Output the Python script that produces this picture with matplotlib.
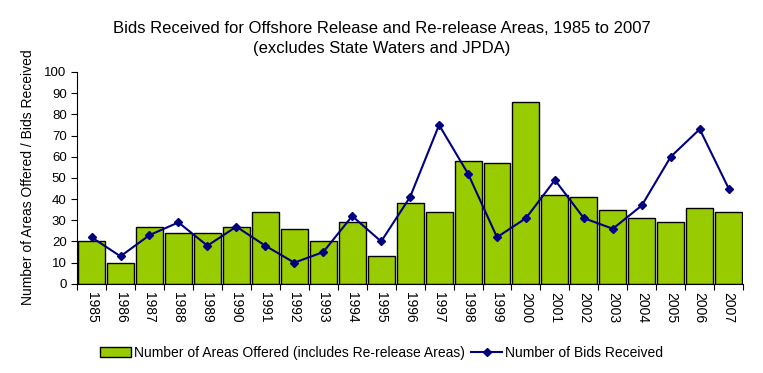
import numpy as np
import matplotlib.pyplot as plt

plt.rcParams['font.family'] = ['Liberation Sans', 'DejaVu Sans']

years = [str(y) for y in range(1985, 2008)]
areas_offered = [20, 10, 27, 24, 24, 27, 34, 26, 20, 29, 13, 38,
                 34, 58, 57, 86, 42, 41, 35, 31, 29, 36, 34]
bids_received = [22, 13, 23, 29, 18, 27, 18, 10, 15, 32, 20, 41,
                 75, 52, 22, 31, 49, 31, 26, 37, 60, 73, 45]

fig = plt.figure(figsize=(7.63, 3.73), dpi=100)
ax = fig.add_axes([0.101, 0.239, 0.873, 0.568])

x = np.arange(len(years))
bars = ax.bar(x, areas_offered, width=0.93, color='#99CC00', edgecolor='black',
              linewidth=1, label='Number of Areas Offered (includes Re-release Areas)')
line, = ax.plot(x, bids_received, color='#000080', marker='D', markersize=4,
                linewidth=1.5, label='Number of Bids Received')

ax.set_xlim(-0.5, len(years) - 0.5)
ax.set_ylim(0, 100)
ax.set_yticks(range(0, 101, 10))
ax.tick_params(axis='y', labelsize=9.5, length=4, direction='out')

# ticks between categories, labels centred under bars
ax.set_xticks(np.arange(-0.5, len(years), 1))
ax.set_xticklabels([])
ax.set_xticks(x, minor=True)
ax.set_xticklabels(years, minor=True, rotation=-90, fontsize=10)
ax.tick_params(axis='x', which='minor', length=0, pad=6)
ax.tick_params(axis='x', which='major', length=4)

for s in ['top', 'right']:
    ax.spines[s].set_visible(False)

fig.text(0.5, 0.897, 'Bids Received for Offshore Release and Re-release Areas, 1985 to 2007\n(excludes State Waters and JPDA)',
         ha='center', va='center', fontsize=12, linespacing=1.45)
fig.text(0.037, 0.182, 'Number of Areas Offered / Bids Received', rotation=90,
         ha='center', va='bottom', fontsize=10)

fig.legend([bars, line], [bars.get_label(), line.get_label()],
           loc='center', bbox_to_anchor=(0.5, 0.054), ncol=2, frameon=False,
           fontsize=10, handlelength=2.2, columnspacing=0.5, handletextpad=0.2)

fig.savefig('out.png', dpi=100)
